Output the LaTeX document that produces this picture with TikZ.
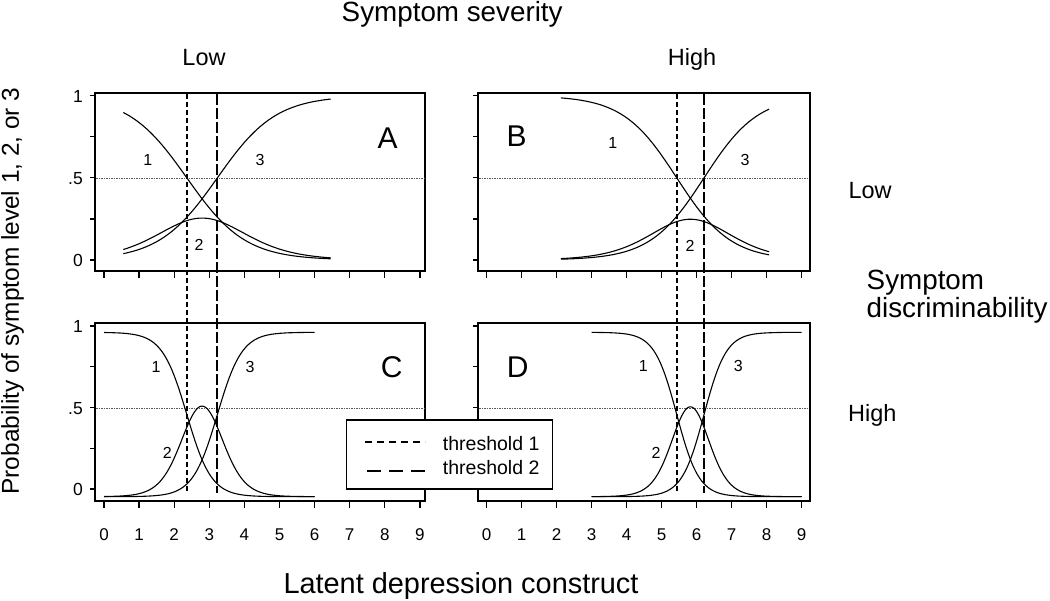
\documentclass[tikz,border=0pt]{standalone}
\usepackage{fontspec}
\setmainfont{Liberation Sans}
\pgfmathdeclarefunction{lgs}{1}{\pgfmathparse{1/(1+exp(max(-9,min(9,-#1))))}}
\newcommand\fsz[1]{\fontsize{#1}{#1}\selectfont}
% #1 x0, #2 sx, #3 y0, #4 sy, #5 a, #6 b1, #7 b2, #8 tmin, #9 tmax
\newcommand\grmcurves[9]{%
  \draw[curve] plot[domain=#8:#9, samples=140, variable=\t] ({#1+#2*\t}, {#3-#4*lgs(#5*(#6-\t))});
  \draw[curve] plot[domain=#8:#9, samples=140, variable=\t] ({#1+#2*\t}, {#3-#4*lgs(#5*(\t-#7))});
  \draw[curve] plot[domain=#8:#9, samples=140, variable=\t] ({#1+#2*\t}, {#3-#4*(lgs(#5*(\t-#6))-lgs(#5*(\t-#7)))});
}
\begin{document}
\begin{tikzpicture}[x=1pt,y=-1pt,
  frame/.style={line width=1.4pt},
  tickln/.style={line width=1.3pt},
  curve/.style={line width=1.1pt, line join=round},
  throne/.style={line width=2.2pt, dash pattern=on 5pt off 3pt},
  thrtwo/.style={line width=2.2pt, dash pattern=on 11pt off 3pt},
  halfln/.style={line width=0.9pt, black!65, dash pattern=on 1.5pt off 1pt},
  ttl/.style={font=\fsz{27.8}, inner sep=0pt},
  sub/.style={font=\fsz{23.5}, inner sep=0pt},
  tlab/.style={font=\fsz{17}, inner sep=0pt},
  ylab/.style={font=\fsz{17.5}, inner sep=0pt},
  plet/.style={font=\fsz{30}, inner sep=0pt},
  clab/.style={font=\fsz{16}, inner sep=0pt},
  leg/.style={font=\fsz{19.5}, inner sep=0pt}]
\useasboundingbox (0,0) rectangle (1050,601);
\fill[white] (0,0) rectangle (1050,601);

% frames
\draw[frame] (95,93) rectangle (425,271);
\draw[frame] (478,93) rectangle (810,271);
\draw[frame] (95,323) rectangle (425,501);
\draw[frame] (478,323) rectangle (810,501);

% x ticks
\foreach \v in {0,...,9} {
  \draw[tickln] ({104+35.1*\v},271) -- ++(0,7);
  \draw[tickln] ({104+35.1*\v},501) -- ++(0,7);
  \draw[tickln] ({486.7+35*\v},271) -- ++(0,7);
  \draw[tickln] ({486.7+35*\v},501) -- ++(0,7);
  \node[tlab, anchor=base] (xc\v) at ({104+35.1*\v},540.5) {\v};
  \node[tlab, anchor=base] (xd\v) at ({486.7+35*\v},540.5) {\v};
}
% y ticks
\foreach \k in {0,...,4} {
  \draw[tickln] (95,{260-41.075*\k}) -- ++(-5,0);
  \draw[tickln] (478,{260-41.075*\k}) -- ++(-5,0);
  \draw[tickln] (95,{489-40.75*\k}) -- ++(-5,0);
  \draw[tickln] (478,{489-40.75*\k}) -- ++(-5,0);
}
\node[ylab, anchor=base east] (ya1) at (83,102.2) {1};
\node[ylab, anchor=base east] (ya5) at (83,184.8) {.5};
\node[ylab, anchor=base east] (ya0) at (83,266.5) {0};
\node[ylab, anchor=base east] (yc1) at (83,332.5) {1};
\node[ylab, anchor=base east] (yc5) at (83,414.5) {.5};
\node[ylab, anchor=base east] (yc0) at (83,495.5) {0};

% .5 reference lines
\draw[halfln] (96,178.3) -- (424,178.3);
\draw[halfln] (479,178.3) -- (809,178.3);
\draw[halfln] (96,408) -- (424,408);
\draw[halfln] (479,408) -- (809,408);

% curves
\grmcurves{104}{35.1}{260}{164.3}{1.2}{2.36}{3.23}{0.55}{6.46}
\grmcurves{486.7}{35}{260}{164.3}{1.3}{5.43}{6.21}{2.12}{8.07}
\grmcurves{104}{35.1}{496.7}{164.4}{2.85}{2.36}{3.23}{0}{6}
\grmcurves{486.7}{35}{496.7}{164.4}{3.15}{5.43}{6.21}{3}{9}

% thresholds
\draw[throne] (186.7,94) -- (186.7,493);
\draw[thrtwo] (217.3,94) -- (217.3,493);
\draw[throne] (676.7,94) -- (676.7,493);
\draw[thrtwo] (704,94) -- (704,493);

% panel letters
\node[plet, anchor=base] (pA) at (387.6,148.3) {A};
\node[plet, anchor=base] (pB) at (516.7,146.7) {B};
\node[plet, anchor=base] (pC) at (391.7,377.3) {C};
\node[plet, anchor=base] (pD) at (517.7,377.3) {D};

% curve labels
\node[clab] (a1) at (147.7,160) {1};
\node[clab] (a3) at (260,160) {3};
\node[clab] (a2) at (199,245) {2};
\node[clab] (b1) at (612.7,143.3) {1};
\node[clab] (b3) at (745,160) {3};
\node[clab] (b2) at (690,245.7) {2};
\node[clab] (c1) at (156,366.7) {1};
\node[clab] (c3) at (250,366.7) {3};
\node[clab] (c2) at (167.3,452.7) {2};
\node[clab] (d1) at (643.3,366) {1};
\node[clab] (d3) at (738.3,366) {3};
\node[clab] (d2) at (656,452.7) {2};

% legend
\draw[line width=1.3pt, fill=white] (346.7,420) rectangle (552.7,489);
\draw[line width=2.2pt, dash pattern=on 7pt off 5pt] (365,441.7) -- (425,441.7);
\draw[line width=2.2pt, dash pattern=on 14pt off 8pt] (367,470.7) -- (425,470.7);
\node[leg, anchor=base west] (l1) at (442.7,450.7) {threshold 1};
\node[leg, anchor=base west] (l2) at (442.7,475) {threshold 2};

% titles
\node[ttl, anchor=base] (sev) at (452.2,21.7) {Symptom severity};
\node[sub, anchor=base] (slow) at (204,66) {Low};
\node[sub, anchor=base] (shigh) at (692,66) {High};
\node[sub, anchor=base west] (dlow) at (848.3,198.3) {Low};
\node[sub, anchor=base west] (dhigh) at (848,421.7) {High};
\node[inner sep=0pt, anchor=base west] (dis) at (866.5,290)
  {\fontsize{27.8}{25}\selectfont\begin{tabular}[t]{@{}l@{}}Symptom\\discriminability\end{tabular}};
\node[font=\fsz{28.9}, inner sep=0pt, anchor=base west] (lat) at (283.3,593.3) {Latent depression construct};
\node[font=\fsz{24.4}, inner sep=0pt, rotate=90, anchor=base] (prob) at (19,291) {Probability of symptom level 1, 2, or 3};
\end{tikzpicture}
\end{document}
